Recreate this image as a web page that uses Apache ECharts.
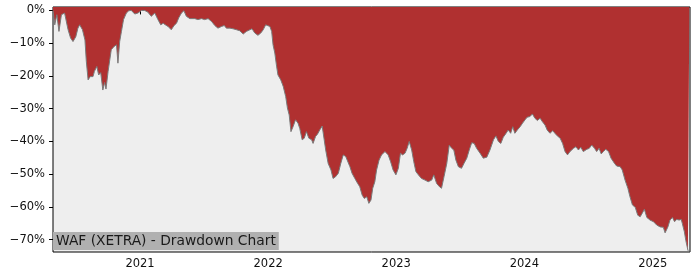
<!DOCTYPE html>
<html>
<head>
<meta charset="utf-8">
<script src="https://cdn.jsdelivr.net/npm/echarts@6/dist/echarts.min.js"></script>
<style>
html,body{margin:0;padding:0;background:#fff;}
#chart{width:700px;height:280px;}
</style>
</head>
<body>
<div id="chart"></div>
<script>
const dates = [
'2020-04-28','2020-05-03','2020-05-09','2020-05-15','2020-05-22','2020-05-31','2020-06-05','2020-06-10','2020-06-17','2020-06-24',
'2020-07-02','2020-07-08','2020-07-13','2020-07-21','2020-07-28','2020-08-01','2020-08-06','2020-08-12','2020-08-20','2020-08-24',
'2020-08-31','2020-09-05','2020-09-11','2020-09-17','2020-09-22','2020-09-26','2020-10-02','2020-10-11','2020-10-19','2020-10-26',
'2020-10-30','2020-11-04','2020-11-09','2020-11-15','2020-11-23','2020-11-30','2020-12-07','2020-12-17','2020-12-26','2021-01-05',
'2021-01-14','2021-01-23','2021-02-02','2021-02-12','2021-02-21','2021-03-01','2021-03-08','2021-03-14','2021-03-22','2021-03-31',
'2021-04-08','2021-04-15','2021-04-21','2021-04-29','2021-05-06','2021-05-13','2021-05-23','2021-06-06','2021-06-15','2021-06-25',
'2021-07-04','2021-07-14','2021-07-24','2021-08-02','2021-08-11','2021-08-21','2021-08-29','2021-09-04','2021-09-14','2021-09-23',
'2021-10-03','2021-10-12','2021-10-22','2021-10-31','2021-11-10','2021-11-16','2021-11-24','2021-12-03','2021-12-11','2021-12-18',
'2021-12-25','2021-12-30','2022-01-06','2022-01-11','2022-01-15','2022-01-20','2022-01-25','2022-01-29','2022-02-06','2022-02-13',
'2022-02-20','2022-02-25','2022-03-02','2022-03-07','2022-03-13','2022-03-20','2022-03-27','2022-04-01','2022-04-08','2022-04-14',
'2022-04-20','2022-04-27','2022-05-05','2022-05-09','2022-05-16','2022-05-22','2022-05-28','2022-06-04','2022-06-09','2022-06-14',
'2022-06-21','2022-06-29','2022-07-05','2022-07-12','2022-07-20','2022-07-27','2022-08-03','2022-08-10','2022-08-15','2022-08-22',
'2022-08-28','2022-09-05','2022-09-13','2022-09-19','2022-09-26','2022-10-02','2022-10-09','2022-10-15','2022-10-21','2022-10-26',
'2022-11-01','2022-11-06','2022-11-13','2022-11-20','2022-11-30','2022-12-09','2022-12-16','2022-12-23','2022-12-31','2023-01-07',
'2023-01-13','2023-01-19','2023-01-26','2023-02-01','2023-02-07','2023-02-14','2023-02-20','2023-02-26','2023-03-05','2023-03-14',
'2023-03-24','2023-04-02','2023-04-12','2023-04-18','2023-04-26','2023-05-04','2023-05-10','2023-05-17','2023-05-25','2023-06-01',
'2023-06-08','2023-06-14','2023-06-20','2023-06-27','2023-07-06','2023-07-13','2023-07-21','2023-07-28','2023-08-04','2023-08-11',
'2023-08-18','2023-08-28','2023-09-06','2023-09-16','2023-09-25','2023-10-05','2023-10-12','2023-10-19','2023-10-26','2023-11-02',
'2023-11-10','2023-11-16','2023-11-23','2023-11-29','2023-12-05','2023-12-12','2023-12-20','2023-12-27','2024-01-03','2024-01-09',
'2024-01-17','2024-01-24','2024-01-31','2024-02-07','2024-02-15','2024-02-21','2024-02-29','2024-03-06','2024-03-14','2024-03-22',
'2024-03-28','2024-04-04','2024-04-12','2024-04-19','2024-04-26','2024-05-03','2024-05-10','2024-05-20','2024-05-27','2024-06-03',
'2024-06-10','2024-06-17','2024-06-27','2024-07-04','2024-07-11','2024-07-19','2024-07-25','2024-08-01','2024-08-07','2024-08-13',
'2024-08-20','2024-08-28','2024-09-04','2024-09-14','2024-09-20','2024-09-30','2024-10-06','2024-10-14','2024-10-22','2024-10-28',
'2024-11-04','2024-11-12','2024-11-19','2024-11-26','2024-12-02','2024-12-08','2024-12-15','2024-12-24','2025-01-03','2025-01-12',
'2025-01-22','2025-01-31','2025-02-05','2025-02-13','2025-02-19','2025-02-26','2025-03-04','2025-03-10','2025-03-17','2025-03-23',
'2025-03-26','2025-04-01','2025-04-05','2025-04-11','2025-04-15'
];
const drawdown = [
0,-4.4,-1.3,-6.4,-1.3,-0.8,-0.3,-5.9,-8.4,-9.5,
-8.0,-5.4,-4.4,-5.9,-9.0,-15.6,-21.2,-20.2,-20.2,-18.6,
-17.1,-19.7,-19.0,-24.3,-22.0,-24.0,-18.6,-12.0,-11.0,-10.5,
-16.1,-9.5,-6.4,-2.8,-0.8,-0.1,0,-1.1,-0.8,0,
0,-0.5,-1.8,-0.8,-2.8,-4.4,-3.9,-4.4,-4.9,-5.9,
-4.6,-3.9,-2.3,-0.8,-0.1,-1.8,-2.5,-2.5,-2.8,-2.5,
-2.8,-2.5,-3.4,-4.6,-5.4,-4.9,-4.6,-5.4,-5.4,-5.6,
-5.9,-6.2,-7.2,-6.4,-5.9,-5.6,-6.9,-7.6,-6.9,-5.9,
-4.4,-3.9,-4.9,-6.4,-10.5,-13.0,-17.0,-19.7,-21.2,-23.2,
-26.3,-29.8,-31.9,-37.0,-35.5,-33.4,-34.4,-36.0,-39.5,-39.0,
-37.0,-39.0,-39.5,-40.6,-38.5,-37.7,-36.5,-35.3,-35.5,-42.6,
-46.7,-48.7,-51.3,-50.8,-49.7,-46.7,-44.1,-44.6,-45.1,-47.7,
-49.7,-51.3,-52.8,-53.8,-56.4,-57.4,-56.9,-58.9,-57.9,-54.3,
-52.3,-48.7,-45.7,-44.1,-43.1,-44.1,-46.2,-48.7,-50.2,-48.2,
-43.6,-44.1,-43.6,-42.1,-40.0,-42.6,-46.2,-49.2,-50.2,-51.3,
-51.8,-52.3,-51.8,-50.2,-52.8,-53.8,-54.3,-50.8,-46.7,-41.1,
-42.1,-42.6,-45.7,-47.7,-48.2,-46.7,-45.1,-42.6,-40.4,-40.6,
-42.1,-43.6,-45.1,-44.8,-42.6,-39.5,-38.3,-40.0,-40.6,-38.7,
-37.5,-36.5,-37.5,-35.5,-37.5,-36.5,-35.5,-34.4,-33.4,-32.6,
-32.4,-31.6,-32.9,-33.6,-32.9,-33.9,-35.0,-36.5,-37.5,-36.7,
-37.5,-38.3,-39.0,-40.6,-43.1,-44.1,-43.1,-42.1,-41.6,-42.6,
-41.8,-43.1,-42.4,-42.1,-41.1,-42.1,-43.1,-42.1,-43.8,-43.1,
-42.4,-43.1,-45.1,-46.7,-47.5,-47.7,-48.7,-51.8,-54.3,-56.9,
-59.4,-60.1,-62.5,-63.0,-61.9,-60.7,-63.2,-64.0,-64.5,-65.5,
-66.1,-66.2,-67.9,-66.1,-64.0,-63.2,-64.5,-63.8,-64.0,-63.8,
-65.0,-67.6,-70.2,-73.2,-73.8
];
const yTicks = [0, -10, -20, -30, -40, -50, -60, -70];
const xTickYears = [2021, 2022, 2023, 2024, 2025];
const xRange = ['2020-04-28', '2025-04-17'];
const titleText = 'WAF (XETRA) - Drawdown Chart';

function ts(s) {
  const p = s.split('-').map(Number);
  return Date.UTC(p[0], p[1] - 1, p[2]);
}
const chart = echarts.init(document.getElementById('chart'), null, {renderer: 'canvas'});
const FONT = 'DejaVu Sans';
const yearStamps = xTickYears.map(y => Date.UTC(y, 0, 1));
chart.setOption({
  animation: false,
  backgroundColor: '#ffffff',
  textStyle: {fontFamily: FONT},
  title: {
    text: titleText,
    left: 53, top: 232,
    backgroundColor: '#b0b0b0',
    padding: [2, 3, 2, 3],
    textStyle: {fontFamily: FONT, fontSize: 13.8, fontWeight: 'normal', color: '#1a1a1a'}
  },
  grid: {
    left: 53, right: 10, top: 7, bottom: 28,
    show: true, backgroundColor: '#eeeeee', borderColor: '#000', borderWidth: 1
  },
  xAxis: {
    type: 'value',
    min: ts(xRange[0]),
    max: ts(xRange[1]),
    axisLine: {show: false},
    splitLine: {show: false},
    axisTick: {show: true, inside: false, length: 4, customValues: yearStamps, lineStyle: {color: '#000', width: 1}},
    axisLabel: {
      customValues: yearStamps,
      margin: 6,
      fontFamily: FONT, fontSize: 11.5, color: '#111',
      formatter: v => String(new Date(v).getUTCFullYear())
    }
  },
  yAxis: {
    type: 'value',
    min: -73.75, max: 1.05,
    axisLine: {show: false},
    splitLine: {show: false},
    axisTick: {show: true, inside: false, length: 4, customValues: yTicks, lineStyle: {color: '#000', width: 1}},
    axisLabel: {
      customValues: yTicks,
      margin: 8,
      fontFamily: FONT, fontSize: 11.5, color: '#111',
      formatter: v => (v < 0 ? '\u2212' + Math.abs(v) : String(v)) + '%'
    }
  },
  series: [{
    type: 'line',
    data: dates.map((d, i) => [ts(d), drawdown[i]]),
    showSymbol: false,
    symbol: 'none',
    lineStyle: {color: '#7a7a7a', width: 1},
    areaStyle: {color: '#b03030', opacity: 1, origin: 'end'},
    z: 2
  }]
});
</script>
</body>
</html>
